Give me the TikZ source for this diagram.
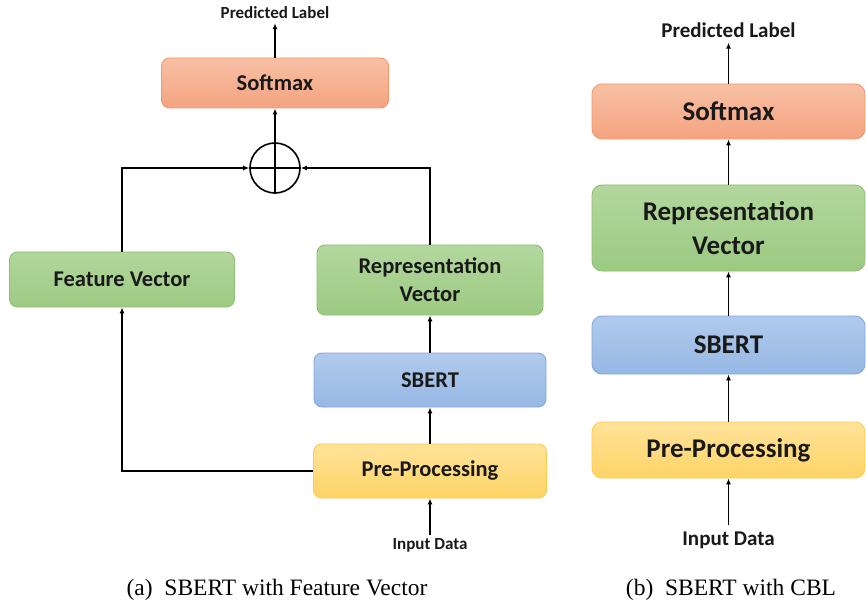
\documentclass[tikz,border=0pt]{standalone}
\usepackage{fontspec}
\setmainfont{Liberation Serif}
\newfontfamily\calfont{Carlito}
\usetikzlibrary{arrows.meta}

\definecolor{orgtop}{HTML}{F8C0A5}
\definecolor{orgbot}{HTML}{F4A380}
\definecolor{orgline}{HTML}{F1996B}
\definecolor{grntop}{HTML}{B3D79E}
\definecolor{grnbot}{HTML}{9CCA82}
\definecolor{grnline}{HTML}{8DBF73}
\definecolor{blutop}{HTML}{B0CAEC}
\definecolor{blubot}{HTML}{96B8E4}
\definecolor{bluline}{HTML}{84A8DA}
\definecolor{ylwtop}{HTML}{FFE39A}
\definecolor{ylwbot}{HTML}{FFD466}
\definecolor{ylwline}{HTML}{FFC94A}

\begin{document}
\begin{tikzpicture}[x=1bp,y=-1bp,
  blk/.style={draw, line width=.9bp, rounded corners=8bp, align=center, text=black!90,
    font=\calfont\bfseries\fontsize{22.5bp}{28bp}\selectfont},
  bigblk/.style={blk, rounded corners=10bp, font=\calfont\bfseries\fontsize{27bp}{34bp}\selectfont},
  lbl/.style={inner sep=4bp, text=black!90, font=\calfont\bfseries\fontsize{17bp}{20bp}\selectfont},
  biglbl/.style={inner sep=5bp, text=black!90, font=\calfont\bfseries\fontsize{21bp}{24bp}\selectfont},
  orng/.style={top color=orgtop, bottom color=orgbot, draw=orgline},
  grn/.style={top color=grntop, bottom color=grnbot, draw=grnline},
  blu/.style={top color=blutop, bottom color=blubot, draw=bluline},
  ylw/.style={top color=ylwtop, bottom color=ylwbot, draw=ylwline},
  arr/.style={-{Latex[length=6bp,width=5bp]}, line width=1.6bp},
  capt/.style={font=\fontsize{23.5bp}{28bp}\selectfont}]
  \useasboundingbox (0,0) rectangle (866,608);

  \node [lbl] (predA) at (275,13) {Predicted Label};
  \node [blk, orng, minimum width=227bp, minimum height=50bp] (softA) at (275,83) {Softmax};
  \node [draw, circle, line width=1.6bp, minimum size=50bp, inner sep=0pt] (plus) at (275,168) {};
  \node [blk, grn, minimum width=225bp, minimum height=55bp] (featA) at (122,279.5) {Feature Vector};
  \node [blk, grn, minimum width=226bp, minimum height=70bp] (reprA) at (430,280) {Representation\\Vector};
  \node [blk, blu, minimum width=232bp, minimum height=54bp] (sbertA) at (430,380) {SBERT};
  \node [blk, ylw, minimum width=233bp, minimum height=54bp] (prepA) at (430,471) {Pre-Processing};
  \node [lbl, inner sep=3bp] (inA) at (430,545) {Input Data};

  \draw [line width=1.6bp] (plus.west) -- (plus.east) (plus.south) -- (plus.north);
  \draw [arr] (plus.north) -- (softA.south);
  \draw [arr] (softA.north) -- (predA.south);
  \draw [arr] (featA.north) |- (plus.west);
  \draw [arr] (reprA.north) |- (plus.east);
  \draw [arr] (sbertA.north) -- (reprA.south);
  \draw [arr] (prepA.north) -- (sbertA.south);
  \draw [arr] (prepA.west) -| (featA.south);
  \draw [arr] (inA.north) -- (prepA.south);

  \node [biglbl] (predB) at (728.5,30) {Predicted Label};
  \node [bigblk, orng, minimum width=273bp, minimum height=55bp] (softB) at (728.5,111.5) {Softmax};
  \node [bigblk, grn, minimum width=273bp, minimum height=86bp] (reprB) at (728.5,228) {Representation\\Vector};
  \node [bigblk, blu, minimum width=273bp, minimum height=58bp] (sbertB) at (728.5,345) {SBERT};
  \node [bigblk, ylw, minimum width=273bp, minimum height=56bp] (prepB) at (728.5,450) {Pre-Processing};
  \node [biglbl, inner sep=6bp] (inB) at (728.5,540) {Input Data};

  \draw [arr] (softB.north) -- (predB.south);
  \draw [arr] (reprB.north) -- (softB.south);
  \draw [arr] (sbertB.north) -- (reprB.south);
  \draw [arr] (prepB.north) -- (sbertB.south);
  \draw [arr] (inB.north) -- (prepB.south);

  \node [capt] (captA) at (277,590) {(a)\enspace SBERT with Feature Vector};
  \node [capt] (captB) at (731,590) {(b)\enspace SBERT with CBL};
\end{tikzpicture}
\end{document}
